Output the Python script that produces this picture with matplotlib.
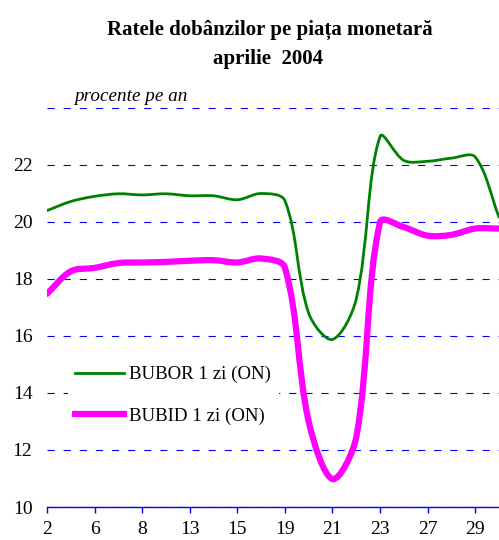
import numpy as np
import matplotlib
matplotlib.use("Agg")
import matplotlib.pyplot as plt
from matplotlib.path import Path
from matplotlib.patches import PathPatch
from matplotlib.lines import Line2D

# Business days of April 2004
days = ["2", "5", "6", "7", "8", "9", "13", "14", "15", "16",
        "19", "20", "21", "22", "23", "26", "27", "28", "29", "30"]

# BUBOR 1 zi (ON), % per year
bubor = [20.40, 20.72, 20.90, 20.99, 20.95, 20.99, 20.92, 20.92, 20.78, 21.00,
         20.75, 16.80, 15.88, 17.30, 23.00, 22.16, 22.13, 22.24, 22.28, 20.17]

# BUBID 1 zi (ON), % per year
bubid = [17.48, 18.27, 18.39, 18.56, 18.58, 18.60, 18.64, 18.66, 18.58, 18.72,
         18.40, 13.00, 10.98, 12.45, 20.00, 19.82, 19.52, 19.55, 19.77, 19.77]

yticks = [10, 12, 14, 16, 18, 20, 22, 24]
ylabels = ["10", "12", "14", "16", "18", "20", "22", ""]

plt.rcParams["font.family"] = ["Liberation Serif", "DejaVu Serif"]

# approx. pixels per data unit, used to weight the smoothing
SX, SY = 23.8, 28.5


# Smoothed line (Bezier segments, Excel-like smoothing)
def smooth_path(values):
    y = np.asarray(values, dtype=float)
    x = np.arange(len(y), dtype=float)
    n = len(y)
    pts = np.column_stack([x, y])
    before = np.zeros_like(pts)
    after = np.zeros_like(pts)
    for i in range(n):
        i0 = max(i - 1, 0)
        i2 = min(i + 1, n - 1)
        t = pts[i2] - pts[i0]
        dp = np.hypot((pts[i, 0] - pts[i0, 0]) * SX, (pts[i, 1] - pts[i0, 1]) * SY)
        dn = np.hypot((pts[i2, 0] - pts[i, 0]) * SX, (pts[i2, 1] - pts[i, 1]) * SY)
        tot = dp + dn
        before[i] = pts[i] - t * dp / tot / 3
        after[i] = pts[i] + t * dn / tot / 3
    verts = [tuple(pts[0])]
    codes = [Path.MOVETO]
    for i in range(n - 1):
        verts += [tuple(after[i]), tuple(before[i + 1]), tuple(pts[i + 1])]
        codes += [Path.CURVE4] * 3
    return Path(verts, codes)


fig = plt.figure(figsize=(4.99, 5.4), dpi=100)
ax = fig.add_axes([47 / 499, 33 / 540, 452 / 499, 399 / 540])

ax.add_patch(PathPatch(smooth_path(bubor), fill=False, edgecolor="#008000",
                       lw=2.0, capstyle="round", joinstyle="round", zorder=3))
ax.add_patch(PathPatch(smooth_path(bubid), fill=False, edgecolor="#FF00FF",
                       lw=4.5, capstyle="round", joinstyle="round", zorder=3))

ax.set_xlim(0, len(days) - 1)
ax.set_ylim(10, 24)

ax.set_yticks(yticks)
ax.set_yticklabels(ylabels)
ax.set_xticks(range(0, len(days), 2))
ax.set_xticklabels(days[::2])

ax.yaxis.grid(True, color="#0000FF", lw=0.8, linestyle=(0, (6.5, 8)))
ax.set_axisbelow(True)

for s in ["top", "left", "right"]:
    ax.spines[s].set_visible(False)
ax.spines["bottom"].set_color("#0000FF")
ax.spines["bottom"].set_linewidth(1.0)

ax.tick_params(axis="x", direction="out", length=4.5, width=1.0, color="#0000FF",
               labelsize=14, pad=5.5)
ax.tick_params(axis="y", length=0, labelsize=14, pad=10.5)

handles = [Line2D([], [], color="#008000", lw=2.0),
           Line2D([], [], color="#FF00FF", lw=4.5)]
leg = ax.legend(handles, ["BUBOR 1 zi (ON)", "BUBID 1 zi (ON)"],
                loc="center left", bbox_to_anchor=(0.046, 0.2795),
                borderaxespad=0, fontsize=13.6, handlelength=2.6,
                handletextpad=0.25, labelspacing=1.27, frameon=True,
                fancybox=False, borderpad=0.4)
leg.get_frame().set_facecolor("white")
leg.get_frame().set_edgecolor("none")
leg.get_frame().set_alpha(1)

fig.text(0.54, 1 - 35 / 540, "Ratele dobânzilor pe piața monetară",
         ha="center", va="baseline", fontsize=15, fontweight="bold")
fig.text(0.537, 1 - 64 / 540, "aprilie  2004",
         ha="center", va="baseline", fontsize=15, fontweight="bold")
fig.text(74 / 499, 1 - 101 / 540, "procente pe an",
         ha="left", va="baseline", fontsize=13.8, style="italic")

fig.savefig("out.png", dpi=100)
